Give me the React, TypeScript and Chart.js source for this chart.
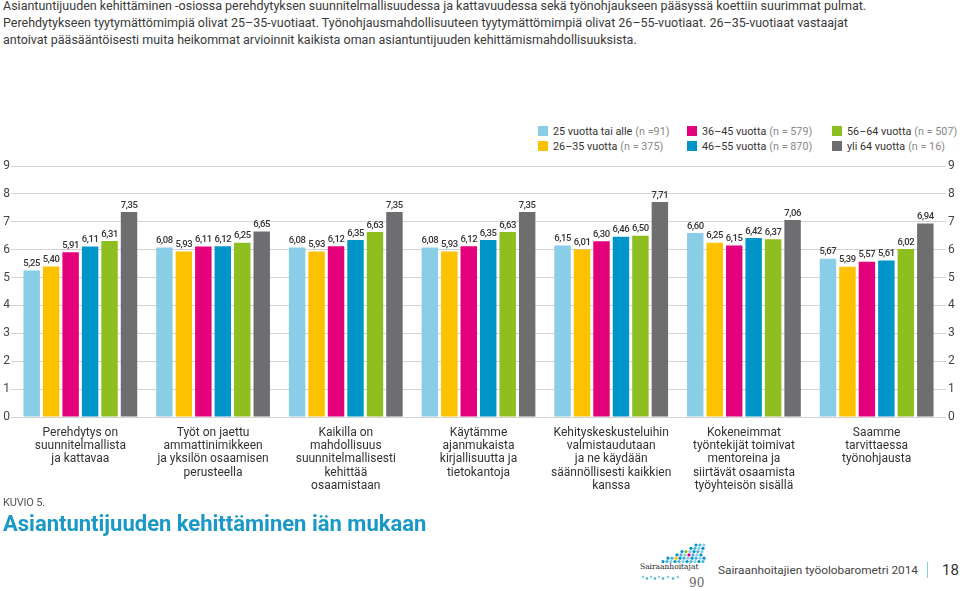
import React, { useEffect, useRef } from "react";
import { Chart, registerables } from "chart.js";

Chart.register(...registerables);

const categories: string[][] = [
  ["Perehdytys on", "suunnitelmallista", "ja kattavaa"],
  ["Työt on jaettu", "ammattinimikkeen", "ja yksilön osaamisen", "perusteella"],
  ["Kaikilla on", "mahdollisuus", "suunnitelmallisesti", "kehittää", "osaamistaan"],
  ["Käytämme", "ajanmukaista", "kirjallisuutta ja", "tietokantoja"],
  ["Kehityskeskusteluihin", "valmistaudutaan", "ja ne käydään", "säännöllisesti kaikkien", "kanssa"],
  ["Kokeneimmat", "työntekijät toimivat", "mentoreina ja", "siirtävät osaamista", "työyhteisön sisällä"],
  ["Saamme", "tarvittaessa", "työnohjausta"],
];

const seriesNames = ["25 vuotta tai alle", "26–35 vuotta", "36–45 vuotta", "46–55 vuotta", "56–64 vuotta", "yli 64 vuotta"];
const seriesN = ["(n =91)", "(n = 375)", "(n = 579)", "(n = 870)", "(n = 507)", "(n = 16)"];
const seriesColors = ["#8ACDE6", "#FCC200", "#E3007B", "#0095C9", "#8EBE1F", "#6E6E70"];

const age25 = [5.25, 6.08, 6.08, 6.08, 6.15, 6.6, 5.67];
const age26_35 = [5.4, 5.93, 5.93, 5.93, 6.01, 6.25, 5.39];
const age36_45 = [5.91, 6.11, 6.12, 6.12, 6.3, 6.15, 5.57];
const age46_55 = [6.11, 6.12, 6.35, 6.35, 6.46, 6.42, 5.61];
const age56_64 = [6.31, 6.25, 6.63, 6.63, 6.5, 6.37, 6.02];
const age64plus = [7.35, 6.65, 7.35, 7.35, 7.71, 7.06, 6.94];
const seriesValues = [age25, age26_35, age36_45, age46_55, age56_64, age64plus];

const yMin = 0;
const yMax = 9;

const FONT = "Roboto, 'Open Sans', sans-serif";

const valueLabels = {
  id: "valueLabels",
  afterDatasetsDraw(chart: any) {
    const ctx = chart.ctx;
    ctx.save();
    ctx.font = `500 9.5px ${FONT}`;
    try {
      (ctx as any).letterSpacing = "-0.4px";
    } catch (e) {}
    ctx.fillStyle = "#333333";
    ctx.textAlign = "center";
    ctx.textBaseline = "bottom";
    chart.data.datasets.forEach((ds: any, i: number) => {
      const meta = chart.getDatasetMeta(i);
      meta.data.forEach((el: any, j: number) => {
        const v = ds.data[j] as number;
        ctx.fillText(v.toFixed(2).replace(".", ","), el.x, el.y - 2);
      });
    });
    ctx.restore();
  },
};

function Logo() {
  const dots: React.ReactNode[] = [];
  const rows = 6;
  for (let r = 0; r < rows; r++) {
    const yy = 3 + r * 3.3;
    const startX = 58 - r * 7 + (r % 2) * 2;
    let c = 0;
    for (let x = startX; x <= 66; x += 4) {
      const special = r === 3 && c === 3 ? "#E3007B" : r === 4 && c === 2 ? "#FCC200" : r === 2 && c === 1 ? "#8EBE1F" : null;
      const col = special || (c % 3 === 0 ? "#0095C9" : c % 3 === 1 ? "#4DB3DC" : "#8ACDE6");
      dots.push(<circle key={`d${r}-${c}`} cx={x} cy={yy} r={1.6} fill={col} />);
      c++;
    }
  }
  const low = [5, 9, 13, 17, 21, 25, 30, 35, 40];
  low.forEach((x, i) => {
    dots.push(<circle key={`l${i}`} cx={x} cy={35 + (i % 2) * 1.5} r={1.3} fill={i % 2 ? "#4DB3DC" : "#8ACDE6"} />);
  });
  return (
    <svg width={72} height={48} style={{ position: "absolute", left: 638, top: 542 }}>
      {dots}
      <text x={2} y={27} fontFamily="'DejaVu Serif', serif" fontSize={7.5} fill="#222">Sairaanhoitajat</text>
      <text x={51} y={45} fontFamily="'DejaVu Serif', serif" fontSize={12} fill="#666">90</text>
    </svg>
  );
}

export default function App() {
  const canvasRef = useRef<HTMLCanvasElement | null>(null);

  useEffect(() => {
    if (!canvasRef.current) return;
    const chart = new Chart(canvasRef.current, {
      type: "bar",
      data: {
        labels: categories,
        datasets: seriesValues.map((vals, i) => ({
          label: seriesNames[i],
          data: vals,
          backgroundColor: seriesColors[i],
          borderWidth: 0,
          categoryPercentage: 0.88,
          barPercentage: 0.845,
        })),
      },
      options: {
        animation: false,
        responsive: false,
        maintainAspectRatio: false,
        layout: { padding: { top: 16, left: 0, right: 0, bottom: 0 } },
        plugins: {
          legend: { display: false },
          tooltip: { enabled: false },
        },
        scales: {
          x: {
            grid: { display: false, drawTicks: false },
            border: { display: false },
            ticks: {
              color: "#333333",
              font: { family: FONT, size: 12, lineHeight: 1.11 },
              padding: 9,
              maxRotation: 0,
              autoSkip: false,
            },
            afterFit: (s: any) => {
              s.height = 83;
            },
          },
          y: {
            position: "left",
            min: yMin,
            max: yMax,
            grid: { color: "#D3D3D3", lineWidth: 1, drawTicks: true, tickLength: 3 },
            border: { display: false },
            ticks: {
              stepSize: 1,
              color: "#444444",
              font: { family: FONT, size: 12 },
              padding: 1,
            },
            afterFit: (s: any) => {
              s.width = 14;
            },
          },
          y2: {
            position: "right",
            min: yMin,
            max: yMax,
            grid: { drawOnChartArea: false, color: "#D3D3D3", drawTicks: true, tickLength: 3 },
            border: { display: false },
            ticks: {
              stepSize: 1,
              color: "#444444",
              font: { family: FONT, size: 12 },
              padding: 2,
            },
            afterFit: (s: any) => {
              s.width = 17;
            },
          },
        },
      },
      plugins: [valueLabels],
    } as any);
    return () => chart.destroy();
  }, []);

  return (
    <div
      style={{
        position: "absolute",
        left: 0,
        top: 0,
        width: 960,
        height: 591,
        background: "#ffffff",
        overflow: "hidden",
        fontFamily: FONT,
      }}
    >
      <div
        style={{
          position: "absolute",
          left: 3,
          top: -3,
          fontSize: 12.5,
          lineHeight: "17px",
          color: "#3a3a3a",
          whiteSpace: "nowrap",
        }}
      >
        Asiantuntijuuden kehittäminen -osiossa perehdytyksen suunnitelmallisuudessa ja kattavuudessa sekä työnohjaukseen pääsyssä koettiin suurimmat pulmat.
        <br />
        Perehdytykseen tyytymättömimpiä olivat 25–35-vuotiaat. Työnohjausmahdollisuuteen tyytymättömimpiä olivat 26–55-vuotiaat. 26–35-vuotiaat vastaajat
        <br />
        antoivat pääsääntöisesti muita heikommat arvioinnit kaikista oman asiantuntijuuden kehittämismahdollisuuksista.
      </div>

      {seriesNames.map((name, i) => {
        const col = Math.floor(i / 2);
        const row = i % 2;
        const lefts = [538, 687, 832];
        return (
          <div
            key={name}
            style={{
              position: "absolute",
              left: lefts[col],
              top: 125 + row * 15,
              height: 12,
              display: "flex",
              alignItems: "center",
              fontSize: 10.8,
              color: "#333",
              whiteSpace: "nowrap",
            }}
          >
            <span style={{ display: "inline-block", width: 10, height: 10, background: seriesColors[i], marginRight: 5 }} />
            <span>{name}</span>
            <span style={{ color: "#888", marginLeft: 3 }}>{seriesN[i]}</span>
          </div>
        );
      })}

      <canvas
        ref={canvasRef}
        width={960}
        height={350}
        style={{ position: "absolute", left: 0, top: 150, width: 960, height: 350 }}
      />

      <div style={{ position: "absolute", left: 3, top: 496, fontSize: 11, color: "#555", letterSpacing: -0.2 }}>KUVIO 5.</div>
      <div
        style={{
          position: "absolute",
          left: 3,
          top: 511,
          fontSize: 22,
          fontWeight: 700,
          color: "#1A98C8",
          whiteSpace: "nowrap",
        }}
      >
        Asiantuntijuuden kehittäminen iän mukaan
      </div>

      <Logo />
      <div style={{ position: "absolute", left: 718, top: 563, fontSize: 11.8, color: "#444", whiteSpace: "nowrap" }}>
        Sairaanhoitajien työolobarometri 2014
      </div>
      <div style={{ position: "absolute", left: 927, top: 562, width: 1, height: 16, background: "#8ACDE6" }} />
      <div style={{ position: "absolute", left: 942, top: 561, fontSize: 15, color: "#333" }}>18</div>
    </div>
  );
}
